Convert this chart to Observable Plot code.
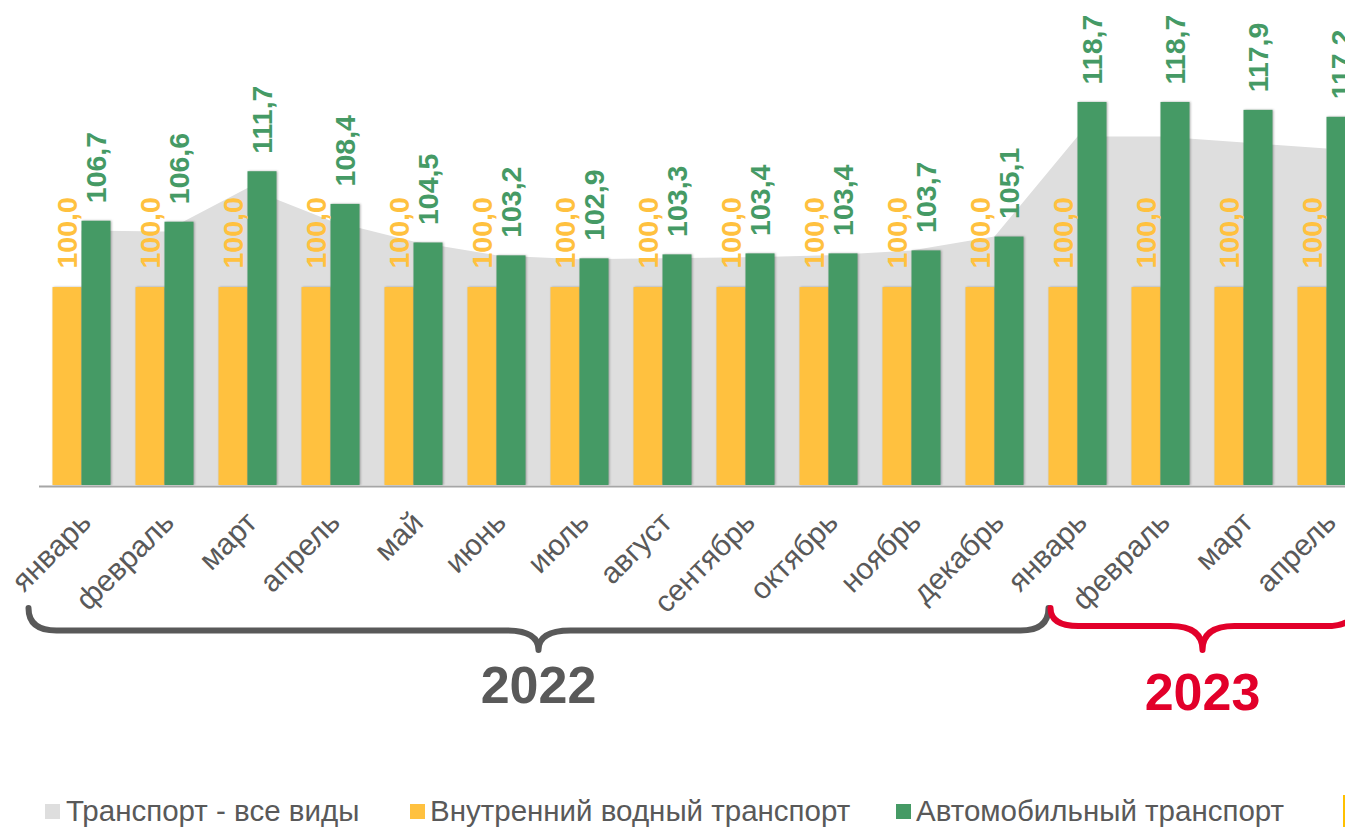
<!DOCTYPE html>
<html><head><meta charset="utf-8">
<script src="https://cdn.jsdelivr.net/npm/d3@7"></script>
<script src="https://cdn.jsdelivr.net/npm/@observablehq/plot@0.6"></script>
<style>
html,body{margin:0;padding:0;overflow:hidden;background:#fff;width:1345px;height:827px;}
#wrap{position:relative;width:1345px;height:827px;overflow:hidden;font-family:"Liberation Sans",Arial,sans-serif;}
#chart{position:absolute;left:0;top:0;}
.leg{position:absolute;top:796px;font-size:29.5px;color:#595959;white-space:nowrap;line-height:1;}
.sw{position:absolute;top:804px;width:15px;height:15px;}
</style></head><body><div id="wrap"><div id="chart"></div><div id="legend"></div></div>
<script>
const months = ["январь","февраль","март","апрель","май","июнь","июль","август","сентябрь","октябрь","ноябрь","декабрь","январь","февраль","март","апрель"];
const years = [2022,2022,2022,2022,2022,2022,2022,2022,2022,2022,2022,2022,2023,2023,2023,2023];
const allTransport = [105.7,105.6,110.0,106.7,104.6,103.2,102.8,102.9,103.0,103.2,103.7,105.1,115.2,115.2,114.6,114.0];
const waterTransport = [100.0,100.0,100.0,100.0,100.0,100.0,100.0,100.0,100.0,100.0,100.0,100.0,100.0,100.0,100.0,100.0];
const roadTransport = [106.7,106.6,111.7,108.4,104.5,103.2,102.9,103.3,103.4,103.4,103.7,105.1,118.7,118.7,117.9,117.2];
const seriesNames = ["Транспорт - все виды","Внутренний водный транспорт","Автомобильный транспорт"];
const seriesColors = ["#DEDEDE","#FFC13F","#459A65"];
const yearLabels = [2022, 2023];
const yearColors = ["#595959","#E2002A"];

const rows = months.map((m,i)=>({key: m+" "+years[i], month:m, year:years[i], all: allTransport[i], water: waterTransport[i], road: roadTransport[i]}));
const fmt = v => v.toFixed(1).replace(".", ",");
const H = 760, base = 485;
const FONT = '"Liberation Sans", Arial, sans-serif';

const plot = Plot.plot({
  width: 1345, height: H, marginTop: 0, marginBottom: H - base, marginLeft: 0, marginRight: 0,
  style: {fontFamily: FONT, background: "transparent"},
  x: {type: "band", domain: rows.map(d => d.key), range: [39.5, 39.5 + 83 * rows.length], padding: 0, axis: null},
  y: {domain: [80, 129], axis: null},
  marks: [
    Plot.areaY(rows, {x: "key", y1: 80, y2: "all", fill: seriesColors[0]}),
    Plot.barY(rows, {x: "key", y1: 80, y2: "water", fill: seriesColors[1], insetLeft: 12.5, insetRight: 41.5}),
    Plot.barY(rows, {x: "key", y1: 80, y2: "road", fill: seriesColors[2], insetLeft: 41.5, insetRight: 12.5}),
    Plot.ruleY([80], {stroke: "#A6A6A6", strokeWidth: 2, insetLeft: 39, dy: 1}),
    Plot.text(rows, {x: "key", y: "water", text: d => fmt(d.water), rotate: -90, textAnchor: "start", lineAnchor: "middle", dx: -14.5, dy: -19, fill: seriesColors[1], fontSize: 28.5, fontWeight: "bold"}),
    Plot.text(rows, {x: "key", y: "road", text: d => fmt(d.road), rotate: -90, textAnchor: "start", lineAnchor: "middle", dx: 14.5, dy: -18, fill: seriesColors[2], fontSize: 28.5, fontWeight: "bold"}),
    Plot.text(rows, {x: "key", frameAnchor: "bottom", text: "month", rotate: -45, textAnchor: "end", lineAnchor: "middle", dx: 4, dy: 32, fill: "#595959", fontSize: 30})
  ]
});
document.getElementById("chart").appendChild(plot);

const svg = d3.select(plot);
svg.selectAll('g[aria-label="bar"] rect').style("filter", "drop-shadow(1.5px 0px 1.2px rgba(0,0,0,0.3))");

const xs = plot.scale("x");
const bw = xs.bandwidth;
function bracePath(x0, x1, yTop, yLine, yTip) {
  const cx = (x0 + x1) / 2, r = 28, t = 32;
  return `M${x0},${yTop} Q${x0},${yLine} ${x0 + r},${yLine} L${cx - t},${yLine} Q${cx},${yLine} ${cx},${yTip} Q${cx},${yLine} ${cx + t},${yLine} L${x1 - r},${yLine} Q${x1},${yLine} ${x1},${yTop}`;
}
const braceSpecs = [
  {x0: k => k - 11.5, x1: k => k + bw + 12.5, yLine: 630.5, textY: 703},
  {x0: k => k + 14.5, x1: k => k + bw - 13.5, yLine: 626, textY: 710}
];
const g = svg.append("g");
yearLabels.forEach((yr, i) => {
  const first = years.indexOf(yr), last = years.lastIndexOf(yr);
  const spec = braceSpecs[i];
  const x0 = spec.x0(xs.apply(rows[first].key));
  const x1 = spec.x1(xs.apply(rows[last].key));
  g.append("path").attr("d", bracePath(x0, x1, 608, spec.yLine, 650))
    .attr("fill", "none").attr("stroke", yearColors[i]).attr("stroke-width", 6).attr("stroke-linecap", "round").attr("stroke-linejoin", "round");
  g.append("text").attr("x", (x0 + x1) / 2).attr("y", spec.textY).attr("text-anchor", "middle")
    .attr("font-size", 52).attr("font-weight", "bold").attr("fill", yearColors[i]).attr("font-family", FONT).text(String(yr));
});

const legend = document.getElementById("legend");
const swX = [45, 410, 896], txX = [66, 430, 916];
seriesNames.forEach((name, i) => {
  const sw = document.createElement("div"); sw.className = "sw"; sw.style.left = swX[i] + "px"; sw.style.background = seriesColors[i]; legend.appendChild(sw);
  const t = document.createElement("div"); t.className = "leg"; t.style.left = txX[i] + "px"; t.textContent = name; legend.appendChild(t);
});
const cut = document.createElement("div");
cut.style.cssText = "position:absolute;left:1343px;top:795px;width:6px;height:40px;background:#FFC000;";
legend.appendChild(cut);
</script></body></html>
